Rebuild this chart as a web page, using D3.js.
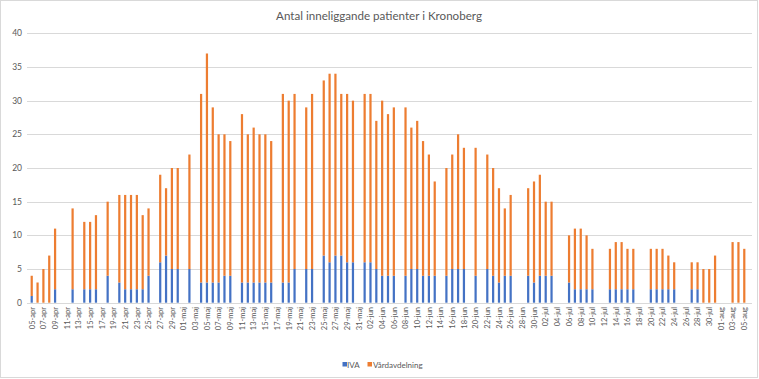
<!DOCTYPE html>
<html><head><meta charset="utf-8">
<script src="https://cdn.jsdelivr.net/npm/d3@7"></script>
<style>html,body{margin:0;padding:0;background:#fff;}svg{display:block;}</style>
</head><body>
<svg id="c" width="759" height="379"></svg>
<script>
const title = "Antal inneliggande patienter i Kronoberg";
const categories = [
"05-apr","06-apr","07-apr","08-apr","09-apr","10-apr","11-apr","12-apr","13-apr","14-apr","15-apr","16-apr","17-apr","18-apr","19-apr","20-apr","21-apr","22-apr","23-apr","24-apr","25-apr","26-apr","27-apr","28-apr","29-apr","30-apr",
"01-maj","02-maj","03-maj","04-maj","05-maj","06-maj","07-maj","08-maj","09-maj","10-maj","11-maj","12-maj","13-maj","14-maj","15-maj","16-maj","17-maj","18-maj","19-maj","20-maj","21-maj","22-maj","23-maj","24-maj","25-maj","26-maj","27-maj","28-maj","29-maj","30-maj","31-maj",
"01-jun","02-jun","03-jun","04-jun","05-jun","06-jun","07-jun","08-jun","09-jun","10-jun","11-jun","12-jun","13-jun","14-jun","15-jun","16-jun","17-jun","18-jun","19-jun","20-jun","21-jun","22-jun","23-jun","24-jun","25-jun","26-jun","27-jun","28-jun","29-jun","30-jun",
"01-jul","02-jul","03-jul","04-jul","05-jul","06-jul","07-jul","08-jul","09-jul","10-jul","11-jul","12-jul","13-jul","14-jul","15-jul","16-jul","17-jul","18-jul","19-jul","20-jul","21-jul","22-jul","23-jul","24-jul","25-jul","26-jul","27-jul","28-jul","29-jul","30-jul","31-jul",
"01-aug","02-aug","03-aug","04-aug","05-aug"];
const iva = [
1,0,0,0,2,null,null,2,null,2,2,2,null,4,null,3,2,2,2,2,4,null,6,7,5,5,
null,5,null,3,3,3,3,4,4,null,3,3,3,3,3,3,null,3,3,5,null,5,5,null,7,6,7,7,6,6,null,
6,6,5,4,4,4,null,4,5,5,4,4,4,null,4,5,5,5,null,4,null,5,4,3,4,4,null,null,4,3,
4,4,4,null,null,3,2,2,2,2,null,null,2,2,2,2,2,null,null,2,2,2,2,2,null,null,2,2,0,0,0,
null,null,0,0,0];
const vard = [
3,3,5,7,9,null,null,12,null,10,10,11,null,11,null,13,14,14,14,11,10,null,13,10,15,15,
null,17,null,28,34,26,22,21,20,null,25,22,23,22,22,21,null,28,27,26,null,24,26,null,26,28,27,24,25,24,null,
25,25,22,26,24,25,null,25,21,22,20,18,14,null,16,17,20,18,null,19,null,17,16,14,10,12,null,null,13,15,
15,11,11,null,null,7,9,9,8,6,null,null,6,7,7,6,6,null,null,6,6,6,5,4,null,null,4,4,5,5,7,
null,null,9,9,8];
const seriesNames = ["IVA","Vårdavdelning"];
const colors = ["#4472C4","#ED7D31"];
const yTicks = [0,5,10,15,20,25,30,35,40];

const svg = d3.select("#c");
const font = "Lato, 'Open Sans', sans-serif";
svg.append("rect").attr("x",0.5).attr("y",0.5).attr("width",757).attr("height",377)
  .attr("fill","#fff").attr("stroke","#d9d9d9");

const x = d3.scaleBand().domain(categories).range([28.8, 747.2]).paddingInner(0.62).paddingOuter(0.31);
const y = d3.scaleLinear().domain([0,40]).range([302.7, 33.3]);

// gridlines
svg.append("g").selectAll("line").data(yTicks).join("line")
  .attr("x1",27).attr("x2",752)
  .attr("y1",d=>Math.round(y(d))+0.5).attr("y2",d=>Math.round(y(d))+0.5)
  .attr("stroke","#d9d9d9").attr("stroke-width",1);

// y labels
svg.append("g").selectAll("text").data(yTicks).join("text")
  .attr("x",22).attr("y",d=>y(d)+3)
  .attr("text-anchor","end").attr("font-family",font).attr("font-size",8.5)
  .attr("fill","#595959").text(d=>d);

// stacked bars
const rows = categories.map((c,i)=>({cat:c, IVA:iva[i], "Vårdavdelning":vard[i]}));
const stack = d3.stack().keys(seriesNames).value((d,k)=>d[k]==null?0:d[k]);
const layers = stack(rows);
layers.forEach((layer,li)=>{
  svg.append("g").attr("fill",colors[li]).selectAll("rect")
    .data(layer.filter(d=>d.data[seriesNames[li]]!=null && d[1]>d[0]))
    .join("rect")
    .attr("x",d=>x(d.data.cat))
    .attr("width",x.bandwidth())
    .attr("y",d=>y(d[1]))
    .attr("height",d=>y(d[0])-y(d[1]));
});

// x axis labels (every other category)
const xLabels = categories.filter((c,i)=>i%2===0);
svg.append("g").selectAll("text").data(xLabels).join("text")
  .attr("transform",d=>`translate(${x(d)+x.bandwidth()/2+2.8},307) rotate(-90)`)
  .attr("text-anchor","end").attr("font-family",font).attr("font-size",7.5)
  .attr("fill","#595959").text(d=>d);

// title
svg.append("text").attr("x",379).attr("y",20).attr("text-anchor","middle")
  .attr("font-family",font).attr("font-size",11.6).attr("fill","#595959").text(title);

// legend
const leg = svg.append("g");
const legPos = [{sx:342.5, tx:347},{sx:367.5, tx:373}];
seriesNames.forEach((n,i)=>{
  leg.append("rect").attr("x",legPos[i].sx).attr("y",362).attr("width",4.5).attr("height",4.5).attr("fill",colors[i]);
  leg.append("text").attr("x",legPos[i].tx).attr("y",367.5).attr("font-family",font).attr("font-size",8)
    .attr("fill","#595959").text(n);
});
</script>
</body></html>
